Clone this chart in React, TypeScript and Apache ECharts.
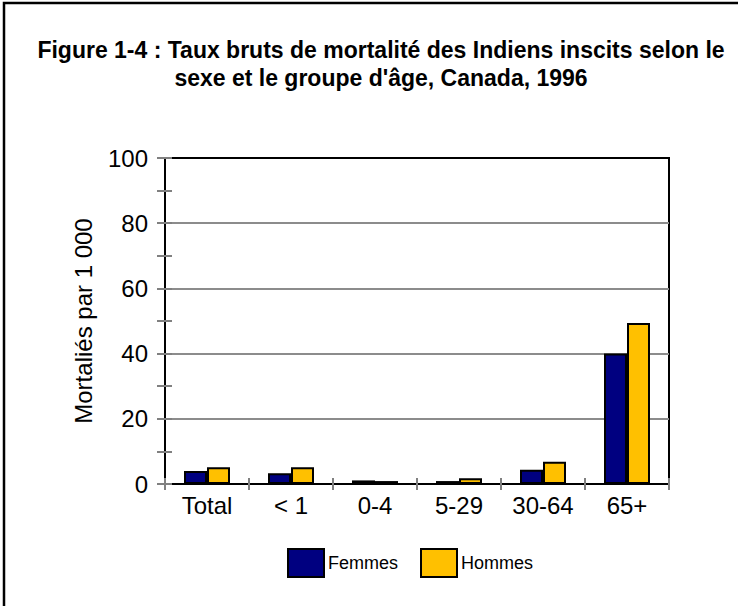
import React, { useEffect, useRef } from "react";
import * as echarts from "echarts";

const categories = ["Total", "< 1", "0-4", "5-29", "30-64", "65+"];
const femmes = [4.0, 3.3, 1.1, 0.9, 4.4, 40.0];
const hommes = [5.1, 5.1, 0.9, 1.8, 6.8, 49.4];
const seriesNames = ["Femmes", "Hommes"];
const titleText = "Figure 1-4 : Taux bruts de mortalité des Indiens inscits selon le\nsexe et le groupe d'âge, Canada, 1996";
const yAxisName = "Mortaliés par 1 000";

const FONT = "'Liberation Sans', Arial, sans-serif";

export default function App() {
  const ref = useRef<HTMLDivElement>(null);
  useEffect(() => {
    if (!ref.current) return;
    const chart = echarts.init(ref.current, null, { renderer: "svg" });
    const yCommon = {
      type: "value",
      min: 0,
      max: 100,
      interval: 20,
      axisLine: { show: true, lineStyle: { color: "#000", width: 2 } },
    };
    chart.setOption({
      animation: false,
      backgroundColor: "#fff",
      textStyle: { fontFamily: FONT },
      grid: {
        left: 165,
        right: 69,
        top: 158,
        bottom: 122,
        show: true,
        borderColor: "#000",
        borderWidth: 2,
        backgroundColor: "transparent",
      },
      graphic: [
        {
          type: "polyline",
          shape: { points: [[4, 606], [4, 3], [738, 3]] },
          style: { stroke: "#000", lineWidth: 2.5, fill: "none" },
          silent: true,
        },
        {
          type: "text",
          x: 381,
          y: 64,
          style: {
            text: titleText,
            font: `bold 23px ${FONT}`,
            fill: "#000",
            textAlign: "center",
            textVerticalAlign: "middle",
            lineHeight: 28,
          },
        },
      ],
      legend: {
        left: 282,
        top: 543,
        itemWidth: 36,
        itemHeight: 28,
        itemGap: 22,
        icon: "rect",
        data: seriesNames,
        textStyle: { fontFamily: FONT, fontSize: 18, color: "#000", padding: [0, 0, 0, -1] },
      },
      xAxis: [
        {
          type: "category",
          data: categories,
          position: "bottom",
          axisLine: { show: true, lineStyle: { color: "#000", width: 2 } },
          axisTick: { show: true, inside: false, length: 6, lineStyle: { color: "#808080", width: 2 } },
          axisLabel: { fontFamily: FONT, fontSize: 24, color: "#000", margin: 9 },
          splitLine: { show: false },
        },
        {
          type: "category",
          data: categories,
          position: "bottom",
          axisLine: { show: false },
          axisTick: { show: true, inside: true, length: 6, lineStyle: { color: "#808080", width: 2 } },
          axisLabel: { show: false },
          splitLine: { show: false },
        },
      ],
      yAxis: [
        {
          ...yCommon,
          position: "left",
          name: yAxisName,
          nameLocation: "middle",
          nameGap: 70,
          nameTextStyle: { fontFamily: FONT, fontSize: 24, color: "#000" },
          axisTick: { show: true, inside: false, length: 8, lineStyle: { color: "#808080", width: 2 } },
          minorTick: { show: true, splitNumber: 2, length: 8, lineStyle: { color: "#808080", width: 2 } },
          axisLabel: { fontFamily: FONT, fontSize: 24, color: "#000", margin: 17 },
          splitLine: {
            show: true,
            showMinLine: false,
            showMaxLine: false,
            lineStyle: { color: "#8c8c8c", width: 2 },
          },
        },
        {
          ...yCommon,
          position: "left",
          axisTick: { show: true, inside: true, length: 7, lineStyle: { color: "#808080", width: 2 } },
          minorTick: { show: true, splitNumber: 2, length: 7, lineStyle: { color: "#808080", width: 2 } },
          axisLabel: { show: false },
          splitLine: { show: false },
        },
      ],
      series: [
        {
          name: seriesNames[0],
          type: "bar",
          data: femmes,
          barWidth: 23,
          barGap: "0%",
          itemStyle: { color: "#000080", borderColor: "#000", borderWidth: 2 },
        },
        {
          name: seriesNames[1],
          type: "bar",
          data: hommes,
          barWidth: 23,
          barGap: "0%",
          itemStyle: { color: "#FFC000", borderColor: "#000", borderWidth: 2 },
        },
      ],
    });
    return () => chart.dispose();
  }, []);
  return (
    <div
      ref={ref}
      style={{ position: "fixed", left: 0, top: 0, width: 738, height: 606, background: "#fff" }}
    />
  );
}
